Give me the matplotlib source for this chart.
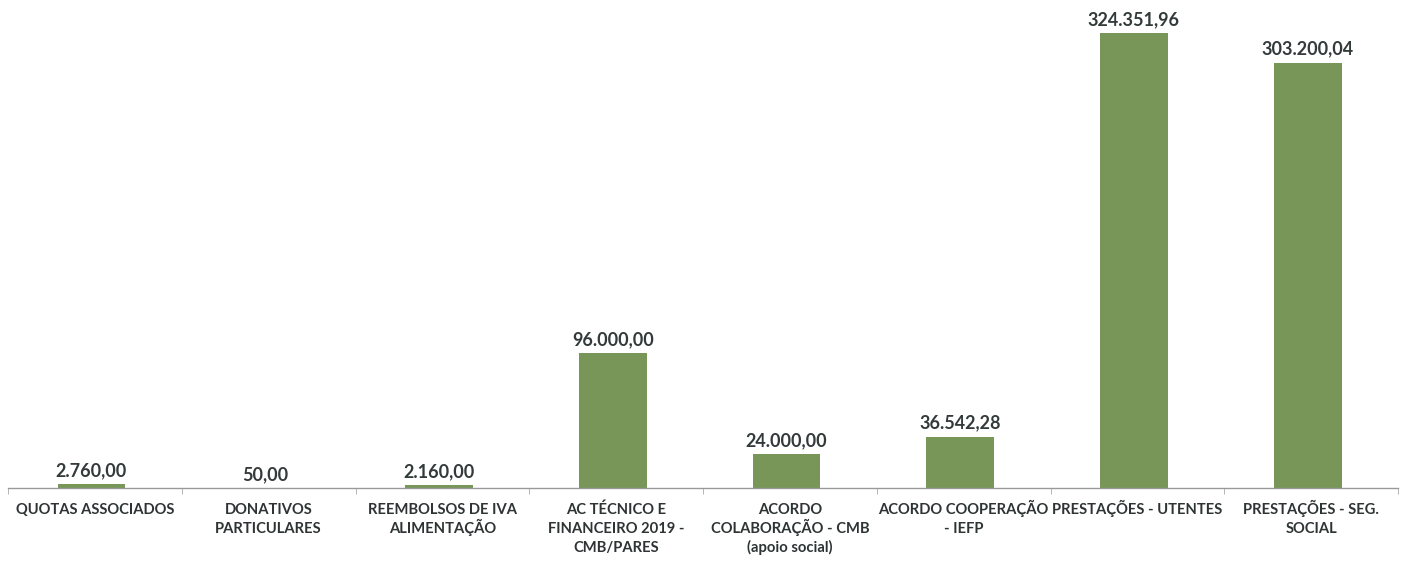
import matplotlib.pyplot as plt
import numpy as np

categories = ["QUOTAS ASSOCIADOS", "DONATIVOS\nPARTICULARES", "REEMBOLSOS DE IVA\nALIMENTAÇÃO",
              "AC TÉCNICO E\nFINANCEIRO 2019 -\nCMB/PARES", "ACORDO\nCOLABORAÇÃO - CMB\n(apoio social)",
              "ACORDO COOPERAÇÃO\n- IEFP", "PRESTAÇÕES - UTENTES", "PRESTAÇÕES - SEG.\nSOCIAL"]
values = [2760.00, 50.00, 2160.00, 96000.00, 24000.00, 36542.28, 324351.96, 303200.04]
labels = ["2.760,00", "50,00", "2.160,00", "96.000,00", "24.000,00", "36.542,28", "324.351,96", "303.200,04"]

plt.rcParams['font.family'] = ['Lato', 'DejaVu Sans']
fig = plt.figure(figsize=(14.01, 5.63), dpi=100)
ax = fig.add_axes([8/1401, 75/563, 1390/1401, 488/563])

x = np.arange(len(categories))
ax.bar(x - 0.02, values, width=0.39, color="#789657")
for xx, v, lab in zip(x, values, labels):
    ax.annotate(lab, (xx - 0.02, v), xytext=(0, 8), textcoords="offset pixels",
                ha="center", va="baseline", fontsize=13, fontweight="bold", color="#333a3a")

# category labels, one text per line so spacing stays even
for xx, cat in zip(x, categories):
    for i, line in enumerate(cat.split("\n")):
        ax.annotate(line, (xx, 0), xycoords=("data", "axes fraction"),
                    xytext=(0, -26 - 19 * i), textcoords="offset pixels",
                    ha="center", va="baseline", fontsize=10.6, fontweight="bold", color="#2e3434")

ax.set_xlim(-0.5, len(categories) - 0.5)
ax.set_ylim(0, 324351.96 * 488 / 455)
ax.set_xticks([])
ax.set_xticks(np.arange(len(categories) + 1) - 0.5, minor=True)
ax.tick_params(axis="x", which="minor", length=4, color="#aaaaaa", direction="out")
ax.set_yticks([])
for s in ["top", "right", "left"]:
    ax.spines[s].set_visible(False)
ax.spines["bottom"].set_color("#999999")
ax.spines["bottom"].set_linewidth(1.0)

fig.savefig("out.png", dpi=100)
